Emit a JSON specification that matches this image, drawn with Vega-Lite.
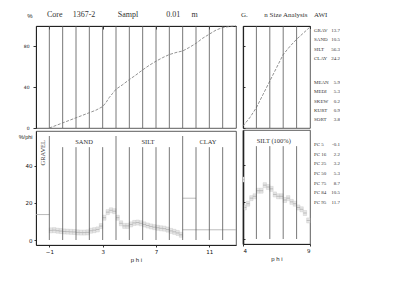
{
  "$schema": "https://vega.github.io/schema/vega-lite/v6.json",
  "background": "white",
  "padding": {"left": 17, "top": 10, "right": 0, "bottom": 0},
  "spacing": 2,
  "config": {
    "view": {"stroke": "#333", "strokeWidth": 0.8},
    "concat": {"spacing": 0},
    "axis": {"labelFont": "DejaVu Sans", "labelFontSize": 5.5, "labelColor": "#111", "tickColor": "#333", "domainColor": "#222", "titleFont": "Liberation Sans", "titleFontWeight": "normal", "titleFontSize": 6, "titleColor": "#222", "grid": false, "tickSize": 2, "labelPadding": 2, "labelOverlap": false},
    "text": {"font": "Liberation Serif", "fill": "#333"}
  },
  "datasets": {
    "cumAll": [
      {"phi": -1, "cum": 0}, {"phi": -0.5, "cum": 2.5}, {"phi": 0, "cum": 5}, {"phi": 0.5, "cum": 7.5}, {"phi": 1, "cum": 10}, {"phi": 1.5, "cum": 12.5}, {"phi": 2, "cum": 15}, {"phi": 2.5, "cum": 17.5}, {"phi": 3, "cum": 21}, {"phi": 3.25, "cum": 25}, {"phi": 3.5, "cum": 30}, {"phi": 3.75, "cum": 34}, {"phi": 4, "cum": 38}, {"phi": 4.5, "cum": 42.5}, {"phi": 5, "cum": 47.5}, {"phi": 5.5, "cum": 52}, {"phi": 6, "cum": 57}, {"phi": 6.5, "cum": 61.5}, {"phi": 7, "cum": 65.5}, {"phi": 7.5, "cum": 69}, {"phi": 8, "cum": 72}, {"phi": 8.5, "cum": 74}, {"phi": 9, "cum": 75.5}, {"phi": 9.5, "cum": 79}, {"phi": 10, "cum": 83}, {"phi": 10.5, "cum": 88}, {"phi": 11, "cum": 92}, {"phi": 11.5, "cum": 96}, {"phi": 12, "cum": 98.5}, {"phi": 12.5, "cum": 99.5}, {"phi": 13, "cum": 100}
    ],
    "cumSilt": [
      {"phi": 4, "cum": 2}, {"phi": 4.5, "cum": 10}, {"phi": 5, "cum": 20}, {"phi": 5.5, "cum": 33}, {"phi": 6, "cum": 46}, {"phi": 6.5, "cum": 59}, {"phi": 7, "cum": 72}, {"phi": 7.5, "cum": 80}, {"phi": 8, "cum": 87}, {"phi": 8.5, "cum": 93}, {"phi": 9, "cum": 99}
    ],
    "histAll": [
      {"a": -1, "b": -0.75, "v": 5.2}, {"a": -0.75, "b": -0.5, "v": 5.3}, {"a": -0.5, "b": -0.25, "v": 5.0}, {"a": -0.25, "b": 0, "v": 4.8},
      {"a": 0, "b": 0.25, "v": 4.6}, {"a": 0.25, "b": 0.5, "v": 4.5}, {"a": 0.5, "b": 0.75, "v": 4.4}, {"a": 0.75, "b": 1, "v": 4.3},
      {"a": 1, "b": 1.25, "v": 4.1}, {"a": 1.25, "b": 1.5, "v": 4.0}, {"a": 1.5, "b": 1.75, "v": 4.0}, {"a": 1.75, "b": 2, "v": 4.1},
      {"a": 2, "b": 2.25, "v": 5.0}, {"a": 2.25, "b": 2.5, "v": 5.3}, {"a": 2.5, "b": 2.75, "v": 5.7}, {"a": 2.75, "b": 3, "v": 7.5},
      {"a": 3, "b": 3.25, "v": 12}, {"a": 3.25, "b": 3.5, "v": 15}, {"a": 3.5, "b": 3.75, "v": 16}, {"a": 3.75, "b": 4, "v": 15.5},
      {"a": 4, "b": 4.25, "v": 12}, {"a": 4.25, "b": 4.5, "v": 9}, {"a": 4.5, "b": 4.75, "v": 7.6}, {"a": 4.75, "b": 5, "v": 7.6},
      {"a": 5, "b": 5.25, "v": 8.4}, {"a": 5.25, "b": 5.5, "v": 9.2}, {"a": 5.5, "b": 5.75, "v": 9.4}, {"a": 5.75, "b": 6, "v": 9.0},
      {"a": 6, "b": 6.25, "v": 8.4}, {"a": 6.25, "b": 6.5, "v": 7.8}, {"a": 6.5, "b": 6.75, "v": 7.3}, {"a": 6.75, "b": 7, "v": 6.9},
      {"a": 7, "b": 7.25, "v": 6.6}, {"a": 7.25, "b": 7.5, "v": 6.3}, {"a": 7.5, "b": 7.75, "v": 6.1}, {"a": 7.75, "b": 8, "v": 5.6},
      {"a": 8, "b": 8.25, "v": 4.9}, {"a": 8.25, "b": 8.5, "v": 4.4}, {"a": 8.5, "b": 8.75, "v": 3.8}, {"a": 8.75, "b": 9, "v": 2.8}
    ],
    "histSilt": [
      {"a": 4, "b": 4.1, "v": 32}, {"a": 4.1, "b": 4.25, "v": 17}, {"a": 4.25, "b": 4.5, "v": 19}, {"a": 4.5, "b": 4.75, "v": 22}, {"a": 4.75, "b": 5, "v": 23},
      {"a": 5, "b": 5.25, "v": 26}, {"a": 5.25, "b": 5.5, "v": 26}, {"a": 5.5, "b": 5.75, "v": 29}, {"a": 5.75, "b": 6, "v": 28},
      {"a": 6, "b": 6.25, "v": 27}, {"a": 6.25, "b": 6.5, "v": 24}, {"a": 6.5, "b": 6.75, "v": 23}, {"a": 6.75, "b": 7, "v": 23},
      {"a": 7, "b": 7.25, "v": 21}, {"a": 7.25, "b": 7.5, "v": 22}, {"a": 7.5, "b": 7.75, "v": 20}, {"a": 7.75, "b": 8, "v": 19},
      {"a": 8, "b": 8.25, "v": 17}, {"a": 8.25, "b": 8.5, "v": 16}, {"a": 8.5, "b": 8.75, "v": 14}, {"a": 8.75, "b": 9, "v": 10}
    ]
  },
  "hconcat": [
    {
      "spacing": 0,
      "vconcat": [
        {
          "width": 200, "height": 102,
          "layer": [
            {
              "data": {"values": [
                {"phi": -1}, {"phi": 0}, {"phi": 1}, {"phi": 2}, {"phi": 3}, {"phi": 4}, {"phi": 5}, {"phi": 6}, {"phi": 7}, {"phi": 8}, {"phi": 9}, {"phi": 10}, {"phi": 11}, {"phi": 12}
              ]},
              "mark": {"type": "rule", "color": "#555", "strokeWidth": 0.8},
              "encoding": {
                "x": {"field": "phi", "type": "quantitative", "scale": {"domain": [-2, 13], "nice": false, "zero": false},
                      "axis": {"orient": "top", "values": [-1, 0, 1, 2, 3, 4, 5, 6, 7, 8, 9, 10, 11, 12], "labels": false, "tickSize": -3, "title": null}}
              }
            },
            {
              "data": {"name": "cumAll"},
              "mark": {"type": "line", "color": "#777", "strokeWidth": 0.8, "strokeDash": [3, 1.5]},
              "encoding": {
                "x": {"field": "phi", "type": "quantitative"},
                "y": {"field": "cum", "type": "quantitative", "scale": {"domain": [0, 100], "nice": false},
                      "axis": {"values": [0, 20, 40, 60, 80, 100], "labelFontSize": 4.5, "tickSize": 3, "labelPadding": 4, "title": "%", "titleAngle": 0, "titleX": -4, "titleY": -9, "titleAlign": "right", "titleBaseline": "alphabetic", "titleFontSize": 6}}
              }
            },
            {
              "mark": {"type": "rule", "color": "#111", "strokeWidth": 1.6},
              "encoding": {"y": {"datum": 0, "type": "quantitative"}}
            },
            {
              "data": {"values": [
                {"t": "Core", "phi": -0.6}, {"t": "1367-2", "phi": 1.6}, {"t": "Sampl", "phi": 4.9}, {"t": "0.01", "phi": 8.3}, {"t": "m", "phi": 9.9}
              ]},
              "mark": {"type": "text", "fontSize": 8, "baseline": "alphabetic", "fill": "#333"},
              "encoding": {
                "x": {"field": "phi", "type": "quantitative"},
                "y": {"datum": 109, "type": "quantitative"},
                "text": {"field": "t"}
              }
            }
          ]
        },
        {
          "width": 200, "height": 114,
          "layer": [
            {
              "data": {"name": "histAll"},
              "mark": {"type": "bar", "fill": "#e6e6e6", "stroke": "#c4c4c4", "strokeWidth": 0.4},
              "encoding": {
                "x": {"field": "a", "type": "quantitative", "scale": {"domain": [-2, 13], "nice": false, "zero": false},
                      "axis": {"values": [-1, 0, 1, 2, 3, 4, 5, 6, 7, 8, 9, 10, 11, 12], "labelOverlap": false, "title": "p h i", "titlePadding": 2, "domainWidth": 1.2}},
                "x2": {"field": "b"},
                "y": {"field": "v", "type": "quantitative", "scale": {"domain": [0, 56], "nice": false},
                      "axis": {"values": [0, 10, 20, 30, 40, 50], "labelOverlap": false, "title": "%/phi", "titleAngle": 0, "titleX": -4, "titleY": 7, "titleAlign": "right", "titleBaseline": "alphabetic", "titleFontSize": 5.5}}
              }
            },
            {
              "data": {"name": "histAll"},
              "mark": {"type": "rule", "color": "#aaa", "strokeWidth": 0.7},
              "encoding": {
                "x": {"field": "a", "type": "quantitative"},
                "x2": {"field": "b"},
                "y": {"field": "v", "type": "quantitative"}
              }
            },
            {
              "data": {"values": [
                {"a": -2, "b": -1, "v": 13.7}, {"a": 9, "b": 10, "v": 22.5}, {"a": 9, "b": 13, "v": 5.5}
              ]},
              "mark": {"type": "rule", "color": "#aaa", "strokeWidth": 0.8},
              "encoding": {
                "x": {"field": "a", "type": "quantitative"},
                "x2": {"field": "b"},
                "y": {"field": "v", "type": "quantitative"}
              }
            },
            {
              "data": {"values": [
                {"phi": -1, "top": 56}, {"phi": 0, "top": 50}, {"phi": 1, "top": 50}, {"phi": 2, "top": 50}, {"phi": 3, "top": 50},
                {"phi": 4, "top": 56}, {"phi": 5, "top": 50}, {"phi": 6, "top": 50}, {"phi": 7, "top": 50}, {"phi": 8, "top": 50},
                {"phi": 9, "top": 56}, {"phi": 10, "top": 50}, {"phi": 11, "top": 50}, {"phi": 12, "top": 50}
              ]},
              "mark": {"type": "rule", "color": "#555", "strokeWidth": 0.8},
              "encoding": {
                "x": {"field": "phi", "type": "quantitative"},
                "y": {"field": "top", "type": "quantitative"},
                "y2": {"datum": 0}
              }
            },
            {
              "data": {"values": [
                {"t": "SAND", "phi": 1.6, "v": 53}, {"t": "SILT", "phi": 6.4, "v": 53}, {"t": "CLAY", "phi": 10.9, "v": 53}
              ]},
              "mark": {"type": "text", "fontSize": 6.5, "baseline": "middle", "fill": "#333"},
              "encoding": {
                "x": {"field": "phi", "type": "quantitative"},
                "y": {"field": "v", "type": "quantitative"},
                "text": {"field": "t"}
              }
            },
            {
              "data": {"values": [{"t": "GRAVEL", "phi": -1.5, "v": 47}]},
              "mark": {"type": "text", "fontSize": 6.5, "baseline": "middle", "angle": 270, "fill": "#333"},
              "encoding": {
                "x": {"field": "phi", "type": "quantitative"},
                "y": {"field": "v", "type": "quantitative"},
                "text": {"field": "t"}
              }
            }
          ]
        }
      ]
    },
    {
      "spacing": 0,
      "vconcat": [
        {
          "width": 67, "height": 102,
          "layer": [
            {
              "data": {"name": "cumSilt"},
              "mark": {"type": "line", "color": "#777", "strokeWidth": 0.8, "strokeDash": [3, 1.5]},
              "encoding": {
                "x": {"field": "phi", "type": "quantitative", "scale": {"domain": [4, 9], "nice": false, "zero": false},
                      "axis": {"orient": "top", "values": [4, 4.5, 5, 5.5, 6, 6.5, 7, 7.5, 8, 8.5, 9], "labels": false, "tickSize": -2.5, "title": null}},
                "y": {"field": "cum", "type": "quantitative", "scale": {"domain": [0, 100], "nice": false},
                      "axis": {"values": [0, 5, 10, 15, 20, 25, 30, 35, 40, 45, 50, 55, 60, 65, 70, 75, 80, 85, 90, 95, 100], "labels": false, "tickSize": -2, "title": null, "domainWidth": 1.2}}
              }
            },
            {
              "data": {"values": [{"phi": 5}, {"phi": 6}, {"phi": 7}, {"phi": 8}]},
              "mark": {"type": "rule", "color": "#555", "strokeWidth": 0.8},
              "encoding": {"x": {"field": "phi", "type": "quantitative"}}
            },
            {
              "mark": {"type": "rule", "color": "#111", "strokeWidth": 1.6},
              "encoding": {"y": {"datum": 0, "type": "quantitative"}}
            },
            {
              "data": {"values": [{"t": "G.", "phi": 4.1}, {"t": "n Size Analysis", "phi": 7.2}]},
              "mark": {"type": "text", "fontSize": 7, "baseline": "alphabetic", "fill": "#333"},
              "encoding": {
                "x": {"field": "phi", "type": "quantitative"},
                "y": {"datum": 109, "type": "quantitative"},
                "text": {"field": "t"}
              }
            }
          ]
        },
        {
          "width": 67, "height": 114,
          "layer": [
            {
              "data": {"name": "histSilt"},
              "mark": {"type": "bar", "fill": "#e6e6e6", "stroke": "#c4c4c4", "strokeWidth": 0.4},
              "encoding": {
                "x": {"field": "a", "type": "quantitative", "scale": {"domain": [4, 9], "nice": false, "zero": false},
                      "axis": {"values": [4, 5, 6, 7, 8, 9], "labelOverlap": false, "title": "p h i", "titlePadding": 2, "domainWidth": 1.2}},
                "x2": {"field": "b"},
                "y": {"field": "v", "type": "quantitative", "scale": {"domain": [0, 56], "nice": false},
                      "axis": {"values": [0, 5, 10, 15, 20, 25, 30, 35, 40, 45, 50], "labels": false, "tickSize": -2, "title": null, "domainWidth": 1.6}}
              }
            },
            {
              "data": {"name": "histSilt"},
              "mark": {"type": "rule", "color": "#aaa", "strokeWidth": 0.7},
              "encoding": {
                "x": {"field": "a", "type": "quantitative"},
                "x2": {"field": "b"},
                "y": {"field": "v", "type": "quantitative"}
              }
            },
            {
              "data": {"values": [{"phi": 5, "top": 50}, {"phi": 6, "top": 50}, {"phi": 7, "top": 50}, {"phi": 8, "top": 50}]},
              "mark": {"type": "rule", "color": "#555", "strokeWidth": 0.8},
              "encoding": {
                "x": {"field": "phi", "type": "quantitative"},
                "y": {"field": "top", "type": "quantitative"},
                "y2": {"datum": 0}
              }
            },
            {
              "data": {"values": [{"t": "SILT (100%)", "phi": 6.3, "v": 53}]},
              "mark": {"type": "text", "fontSize": 6.5, "baseline": "middle", "fill": "#333"},
              "encoding": {
                "x": {"field": "phi", "type": "quantitative"},
                "y": {"field": "v", "type": "quantitative"},
                "text": {"field": "t"}
              }
            }
          ]
        }
      ]
    },
    {
      "width": 26, "height": 216,
      "view": {"stroke": null},
      "data": {"values": [
        {"k": "GRAV", "val": "13.7", "line": 0.43}, {"k": "SAND", "val": "10.5", "line": 1.38}, {"k": "SILT", "val": "56.3", "line": 2.45}, {"k": "CLAY", "val": "24.2", "line": 3.41},
        {"k": "MEAN", "val": "5.9", "line": 5.96}, {"k": "MEDI", "val": "5.3", "line": 6.92}, {"k": "SKEW", "val": "0.2", "line": 7.99}, {"k": "KURT", "val": "0.9", "line": 8.95}, {"k": "SORT", "val": "3.8", "line": 9.9},
        {"k": "PC 5", "val": "-0.1", "line": 12.57}, {"k": "PC 16", "val": "2.2", "line": 13.63}, {"k": "PC 25", "val": "3.2", "line": 14.59}, {"k": "PC 50", "val": "5.3", "line": 15.65},
        {"k": "PC 75", "val": "8.7", "line": 16.72}, {"k": "PC 84", "val": "10.5", "line": 17.68}, {"k": "PC 95", "val": "11.7", "line": 18.74}
      ]},
      "layer": [
        {
          "mark": {"type": "text", "fontSize": 5, "align": "left", "baseline": "middle", "fill": "#333"},
          "encoding": {
            "x": {"datum": 0, "type": "quantitative", "scale": {"domain": [0, 1], "nice": false}, "axis": null},
            "y": {"field": "line", "type": "quantitative", "scale": {"domain": [0, 23], "nice": false, "reverse": true, "zero": false}, "axis": null},
            "text": {"field": "k"}
          }
        },
        {
          "mark": {"type": "text", "fontSize": 5, "align": "right", "baseline": "middle", "fill": "#333"},
          "encoding": {
            "x": {"datum": 1, "type": "quantitative"},
            "y": {"field": "line", "type": "quantitative"},
            "text": {"field": "val"}
          }
        },
        {
          "data": {"values": [{"k": "AWI", "line": -0.96}]},
          "mark": {"type": "text", "fontSize": 7, "align": "left", "baseline": "alphabetic", "fill": "#333"},
          "encoding": {
            "x": {"datum": 0, "type": "quantitative"},
            "y": {"field": "line", "type": "quantitative"},
            "text": {"field": "k"}
          }
        }
      ]
    }
  ]
}
